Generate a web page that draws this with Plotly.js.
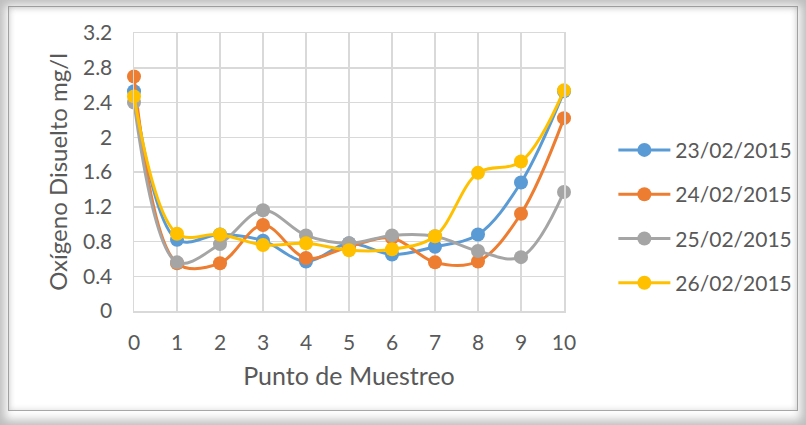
<!DOCTYPE html>
<html>
<head>
<meta charset="utf-8">
<script src="https://cdn.plot.ly/plotly-3.0.1.min.js"></script>
<style>
  html, body { margin: 0; padding: 0; background: #ffffff; }
  #wrap { position: relative; width: 806px; height: 425px; overflow: hidden; background: #d4d4d4; }
  #chart { position: absolute; left: 0; top: 0; width: 806px; height: 425px; }
  #frame { position: absolute; left: 8px; top: 6px; width: 788px; height: 403px;
           border: 1px solid #a8a8a8; box-shadow: inset 0 0 6px rgba(0,0,0,0.15); pointer-events: none; }
  #outer { position: absolute; left: 0; top: 0; width: 806px; height: 425px; pointer-events: none;
           box-shadow: inset 0 0 10px 5px rgba(110,110,110,0.45); }
</style>
</head>
<body>
<div id="wrap">
  <div id="chart"></div>
  <div id="frame"></div>
  <div id="outer"></div>
</div>
<script>
const puntos = [0, 1, 2, 3, 4, 5, 6, 7, 8, 9, 10];
const seriesNames = ["23/02/2015", "24/02/2015", "25/02/2015", "26/02/2015"];
const s23 = [2.53, 0.82, 0.88, 0.81, 0.57, 0.78, 0.65, 0.74, 0.88, 1.48, 2.53];
const s24 = [2.70, 0.55, 0.55, 0.99, 0.61, 0.74, 0.84, 0.56, 0.57, 1.12, 2.22];
const s25 = [2.40, 0.56, 0.77, 1.16, 0.87, 0.78, 0.87, 0.86, 0.69, 0.62, 1.37];
const s26 = [2.47, 0.89, 0.88, 0.76, 0.78, 0.70, 0.71, 0.86, 1.59, 1.72, 2.54];
const colors = ["#5B9BD5", "#ED7D31", "#A5A5A5", "#FFC000"];
const allSeries = [s23, s24, s25, s26];

const font = "Lato, 'Open Sans', sans-serif";
const textColor = "#595959";

const traces = allSeries.map((vals, i) => ({
  x: puntos,
  y: vals,
  name: seriesNames[i],
  legendgroup: "g" + i,
  type: "scatter",
  mode: "lines+markers",
  line: { color: colors[i], width: 3, shape: "spline", smoothing: 1 },
  marker: { color: colors[i], size: 14 },
  cliponaxis: false
}));

const layout = {
  width: 806,
  height: 425,
  paper_bgcolor: "#ffffff",
  plot_bgcolor: "#ffffff",
  margin: { l: 134, r: 242, t: 33, b: 114 },
  font: { family: font, color: textColor, size: 21 },
  showlegend: true,
  legend: {
    xref: "container", yref: "container",
    x: 0.761, y: 0.49, xanchor: "left", yanchor: "middle",
    traceorder: "grouped",
    tracegroupgap: 14,
    itemwidth: 52,
    font: { family: font, size: 21, color: textColor },
    bgcolor: "rgba(0,0,0,0)"
  },
  xaxis: {
    range: [0, 10],
    dtick: 1,
    tick0: 0,
    showgrid: true,
    gridcolor: "#D9D9D9",
    gridwidth: 1.5,
    zeroline: false,
    showline: true,
    mirror: true,
    linecolor: "#D9D9D9",
    linewidth: 1.5,
    ticks: "",
    ticklabelstandoff: 12,
    tickfont: { family: font, size: 21, color: textColor },
    title: { text: "Punto de Muestreo", font: { family: font, size: 25, color: textColor }, standoff: 15 },
    automargin: false,
    fixedrange: true
  },
  yaxis: {
    range: [0, 3.2],
    dtick: 0.4,
    tick0: 0,
    showgrid: true,
    gridcolor: "#D9D9D9",
    gridwidth: 1.5,
    zeroline: false,
    showline: true,
    mirror: true,
    linecolor: "#D9D9D9",
    linewidth: 1.5,
    ticks: "",
    ticklabelstandoff: 16,
    tickfont: { family: font, size: 21, color: textColor },
    title: { text: "Oxígeno Disuelto mg/l", font: { family: font, size: 24, color: textColor }, standoff: 8 },
    automargin: false,
    fixedrange: true
  }
};

Plotly.newPlot("chart", traces, layout, { displayModeBar: false, staticPlot: true });
</script>
</body>
</html>
